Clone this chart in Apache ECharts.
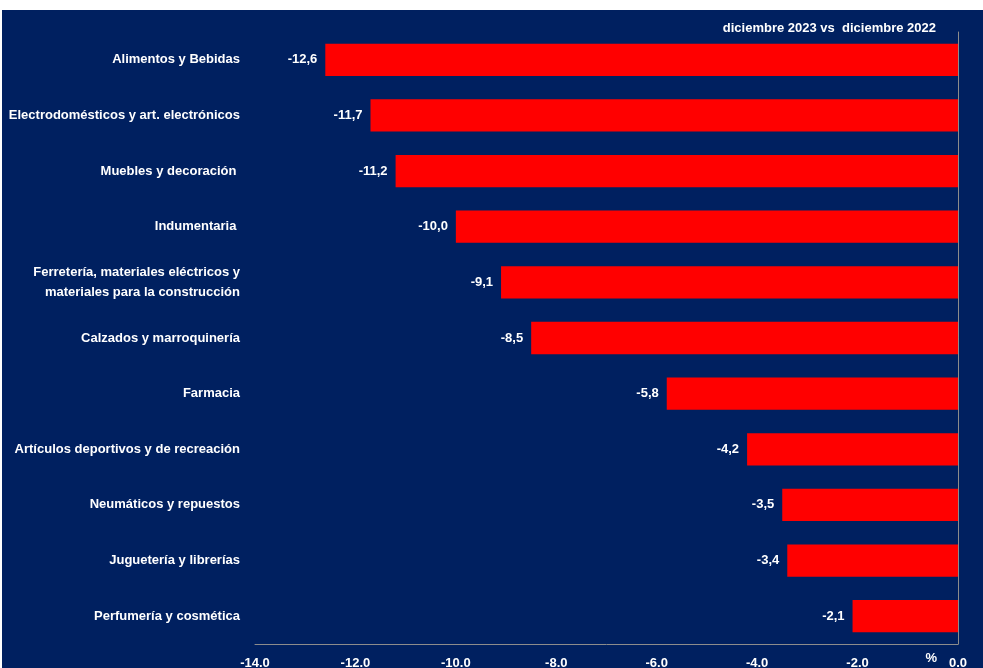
<!DOCTYPE html>
<html>
<head>
<meta charset="utf-8">
<script src="https://cdn.jsdelivr.net/npm/echarts@6/dist/echarts.min.js"></script>
<style>
  html, body { margin: 0; padding: 0; background: #ffffff; }
  #chart { position: absolute; left: 2px; top: 10px; width: 981px; height: 658px; background: #002060; }
</style>
</head>
<body>
<div id="chart"></div>
<script>
// rubros, de arriba hacia abajo
const categories = [
  'Alimentos y Bebidas',
  'Electrodomésticos y art. electrónicos',
  'Muebles y decoración ',
  'Indumentaria ',
  'Ferretería, materiales eléctricos y\nmateriales para la construcción',
  'Calzados y marroquinería',
  'Farmacia',
  'Artículos deportivos y de recreación',
  'Neumáticos y repuestos',
  'Juguetería y librerías',
  'Perfumería y cosmética'
];
// variación % diciembre 2023 vs diciembre 2022
const values = [-12.6, -11.7, -11.2, -10.0, -9.1, -8.5, -5.8, -4.2, -3.5, -3.4, -2.1];
const titleText = 'diciembre 2023 vs  diciembre 2022';

const font = '"Liberation Sans Narrow", "Liberation Sans", Arial, sans-serif';

const chart = echarts.init(document.getElementById('chart'));

const option = {
  backgroundColor: '#002060',
  animation: false,
  title: {
    text: titleText,
    right: 42,
    top: 7,
    textStyle: { color: '#ffffff', fontSize: 13, fontWeight: 'bold', fontFamily: font }
  },
  grid: { left: 253, right: 25, top: 22, bottom: 24, outerBoundsMode: 'none' },
  xAxis: {
    type: 'value',
    min: -14,
    max: 0,
    interval: 2,
    axisLine: { show: true, lineStyle: { color: '#8c8c8c', width: 1 } },
    axisTick: { show: false },
    splitLine: { show: false },
    axisLabel: {
      color: '#ffffff',
      fontSize: 13,
      fontWeight: 'bold',
      fontFamily: font,
      margin: 13,
      formatter: v => v.toFixed(1)
    }
  },
  yAxis: [
    {
      type: 'category',
      data: categories,
      inverse: true,
      position: 'left',
      axisLine: { show: false },
      axisTick: { show: false },
      axisLabel: {
        color: '#ffffff',
        fontSize: 13,
        fontWeight: 'bold',
        fontFamily: font,
        margin: 15,
        lineHeight: 20,
        align: 'right'
      }
    },
    {
      type: 'category',
      data: categories,
      inverse: true,
      position: 'right',
      axisLine: { show: true, onZero: false, lineStyle: { color: '#8c8c8c', width: 1 } },
      axisTick: { show: false },
      axisLabel: { show: false }
    }
  ],
  series: [
    {
      type: 'bar',
      data: values,
      barCategoryGap: '42%',
      itemStyle: { color: '#ff0000' },
      label: {
        show: true,
        position: 'left',
        distance: 8,
        color: '#ffffff',
        fontSize: 13,
        fontWeight: 'bold',
        fontFamily: font,
        formatter: p => p.value.toFixed(1).replace('.', ',')
      }
    }
  ],
  graphic: [
    {
      type: 'text',
      right: 46,
      bottom: 3,
      style: { text: '%', fill: '#ffffff', fontSize: 13, fontWeight: 'bold', fontFamily: font }
    }
  ]
};

chart.setOption(option);
</script>
</body>
</html>
